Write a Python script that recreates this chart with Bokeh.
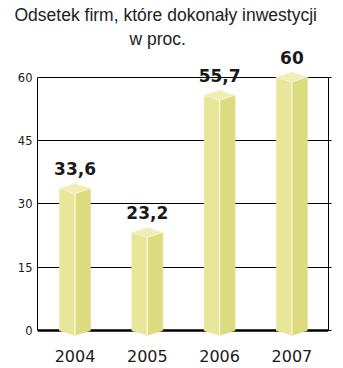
from bokeh.plotting import figure
from bokeh.models import FixedTicker, Range1d, LinearAxis, Span, Title, ColumnDataSource
from bokeh.core.properties import value
from bokeh.embed import file_html
from bokeh.resources import INLINE

# ---- data ----
years = ["2004", "2005", "2006", "2007"]
shares = [33.6, 23.2, 55.7, 60.0]
share_labels = ["33,6", "23,2", "55,7", "60"]
y_ticks = [0, 15, 30, 45, 60]
title_line1 = "Odsetek firm, które dokonały inwestycji"
title_line2 = "w proc."

# ---- style ----
HALF_W = 0.214      # half bar width (x units)
DEPTH = 1.2         # 3D cap depth (y units)
LEFT_FACE = "#e8e699"
RIGHT_FACE = "#dddb80"
CAP = "#f0eeb6"

xs = list(range(len(years)))

p = figure(width=343, height=368, output_backend="svg", toolbar_location=None,
           x_range=Range1d(-0.519, 3.506), y_range=Range1d(-2.37, 66.75),
           min_border_left=37, min_border_right=15, min_border_top=48,
           min_border_bottom=28, background_fill_color="white",
           border_fill_color="white", outline_line_color=None)

# titles: line 1 on top, line 2 nearest to the frame
p.title = Title(text=title_line1, align="left", offset=-23, standoff=3,
                text_font="Liberation Sans", text_font_size="17.5px",
                text_font_style="normal", text_color="#222222")
p.add_layout(Title(text=title_line2, align="left", offset=92, standoff=0,
                   text_font="Liberation Sans", text_font_size="17.5px",
                   text_font_style="normal", text_color="#222222"), "above")

# grid
p.xgrid.visible = False
p.ygrid.ticker = FixedTicker(ticks=y_ticks)
p.ygrid.grid_line_color = "black"
p.ygrid.grid_line_width = 1

zero = Span(location=0, dimension="width", line_color="black", line_width=2.5, level="underlay")
p.add_layout(zero)

# left axis
ya = p.yaxis[0]
ya.ticker = FixedTicker(ticks=y_ticks)
ya.bounds = (0, 60)
ya.axis_line_color = "black"
ya.major_tick_in = 0
ya.major_tick_out = 0
ya.minor_tick_line_color = None
ya.major_label_standoff = 5
ya.major_label_text_font = "DejaVu Sans"
ya.major_label_text_font_size = "11.5px"
ya.major_label_text_color = "#1a1a1a"

# right axis (line + outward ticks)
ra = LinearAxis(ticker=FixedTicker(ticks=y_ticks), bounds=(0, 60))
ra.axis_line_color = "black"
ra.major_tick_in = 0
ra.major_tick_out = 3
ra.major_tick_line_color = "black"
ra.minor_tick_line_color = None
ra.major_label_text_font_size = "0px"
ra.major_label_text_alpha = 0
p.add_layout(ra, "right")

# x axis
xa = p.xaxis[0]
xa.ticker = FixedTicker(ticks=xs)
xa.major_label_overrides = {i: y for i, y in zip(xs, years)}
xa.axis_line_color = None
xa.major_tick_line_color = None
xa.minor_tick_line_color = None
xa.major_label_standoff = 3
xa.major_label_text_font = "DejaVu Sans"
xa.major_label_text_font_size = "16px"
xa.major_label_text_color = "#1a1a1a"

# 3D columns
left_x, left_y, right_x, right_y, cap_x, cap_y = [], [], [], [], [], []
for c, v in zip(xs, shares):
    left_x.append([c - HALF_W, c, c, c - HALF_W])
    left_y.append([v, v - DEPTH, -DEPTH, 0])
    right_x.append([c, c + HALF_W, c + HALF_W, c])
    right_y.append([v - DEPTH, v, 0, -DEPTH])
    cap_x.append([c - HALF_W, c, c + HALF_W, c])
    cap_y.append([v, v + DEPTH, v, v - DEPTH])

p.patches(left_x, left_y, fill_color=LEFT_FACE, line_color="#eeecaf", line_width=0.8)
p.patches(right_x, right_y, fill_color=RIGHT_FACE, line_color=RIGHT_FACE, line_width=0.5)
p.patches(cap_x, cap_y, fill_color=CAP, line_color="#f6f4d0", line_width=0.8)
p.segment(x0=xs, y0=[v - DEPTH for v in shares], x1=xs, y1=[-DEPTH] * len(xs),
          line_color="#fbfae6", line_width=1.2)

# value labels
src = ColumnDataSource(dict(x=xs, y=shares, t=share_labels))
p.text(x="x", y="y", text="t", source=src, y_offset=-20,
       text_font=value("DejaVu Sans"), text_font_style="bold",
       text_font_size="17px", text_color="#1a1a1a",
       text_align="center", text_baseline="alphabetic")

open("out.html", "w").write(file_html(p, INLINE))
